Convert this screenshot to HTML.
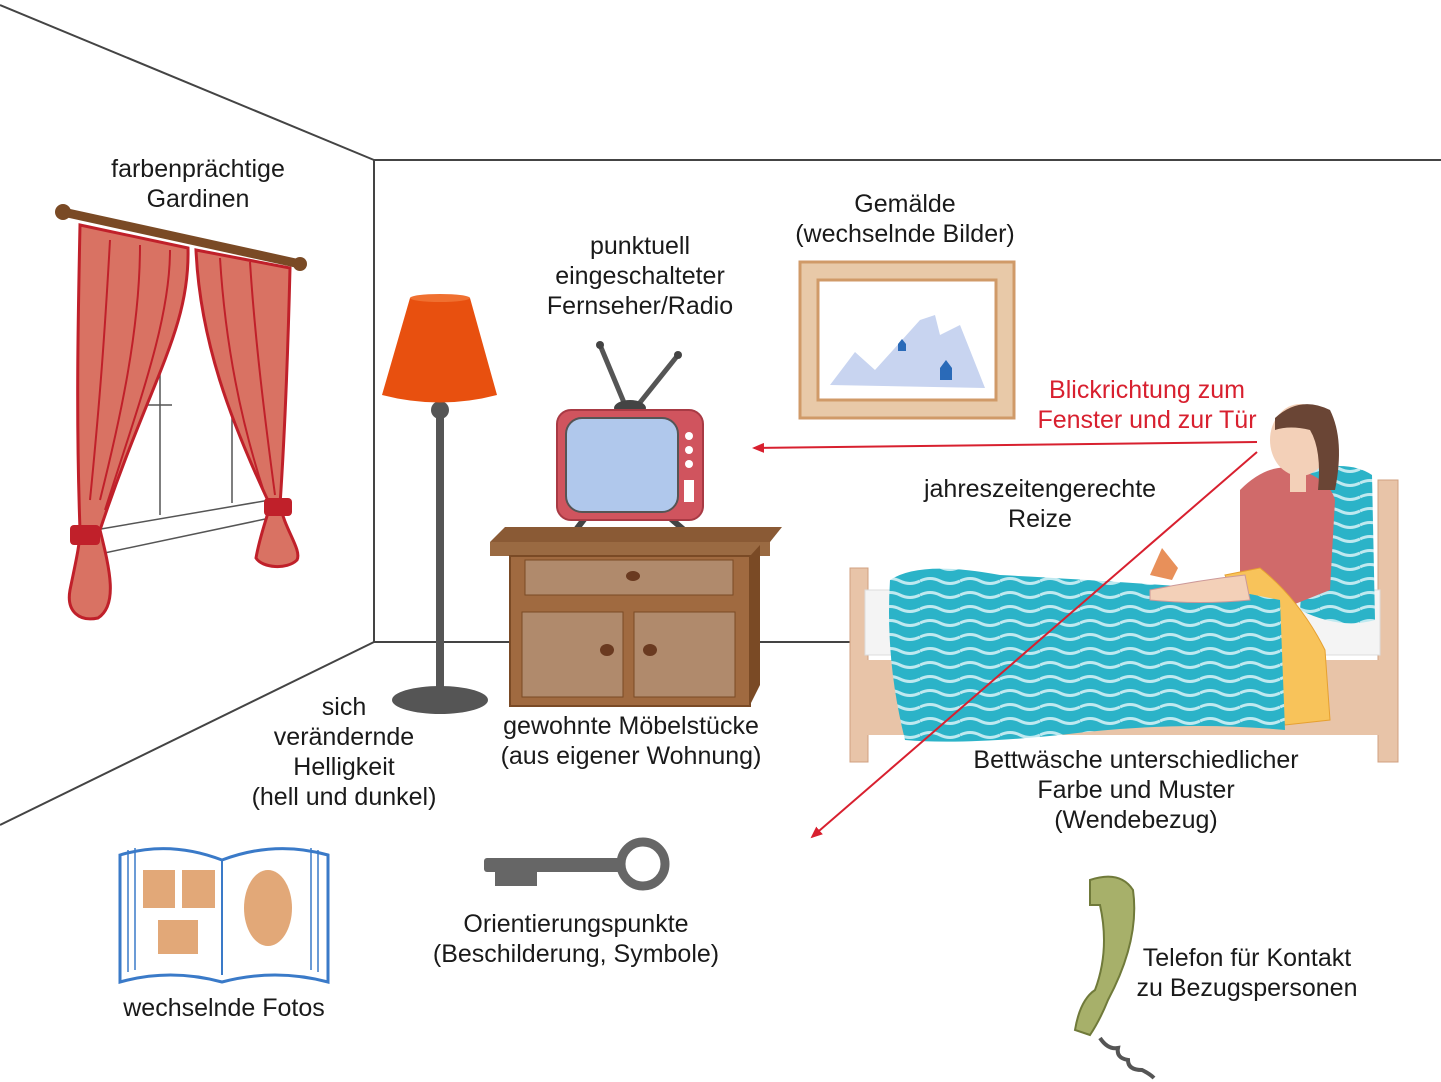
<!DOCTYPE html>
<html><head><meta charset="utf-8"><style>
html,body{margin:0;padding:0;background:#fff}
svg{display:block}
text{font-family:"Liberation Sans",sans-serif;font-size:25px;fill:#1a1a1a}
</style></head><body>
<svg width="1441" height="1082" viewBox="0 0 1441 1082" xmlns="http://www.w3.org/2000/svg">
<defs>
<marker id="ar" markerWidth="12" markerHeight="10" refX="10" refY="5" orient="auto" markerUnits="userSpaceOnUse">
<path d="M0,0 L12,5 L0,10 z" fill="#d8202f"/></marker>
<pattern id="wave" width="40" height="14" patternUnits="userSpaceOnUse">
<rect width="40" height="14" fill="#2bb3c8"/>
<path d="M0,7 Q10,2 20,7 T40,7" stroke="#bfe9f0" stroke-width="3" fill="none"/>
</pattern>
</defs>
<g stroke="#444" stroke-width="2" fill="none">
<line x1="0" y1="5" x2="374" y2="160"/>
<line x1="374" y1="160" x2="1441" y2="160"/>
<line x1="374" y1="160" x2="374" y2="642"/>
<line x1="374" y1="642" x2="0" y2="825"/>
<line x1="374" y1="642" x2="855" y2="642"/>
</g>
<g stroke="#555" stroke-width="1.5" fill="none">
<line x1="160" y1="330" x2="160" y2="515"/>
<line x1="232" y1="315" x2="232" y2="503"/>
<line x1="95" y1="530" x2="270" y2="500"/>
<line x1="95" y1="555" x2="270" y2="518"/>
<line x1="148" y1="405" x2="172" y2="405"/>
</g>
<g stroke="#c0202a" stroke-width="3" fill="#d97263">
<path d="M80,225 L188,248 C190,330 150,380 100,530 C110,570 118,605 98,618 C80,622 66,612 70,590 C75,565 80,545 80,530 C76,420 78,320 80,225 z"/>
<path d="M196,250 L290,268 C288,350 285,430 280,505 C285,530 302,550 297,560 C287,570 262,568 256,558 C260,535 268,515 270,505 C230,420 200,340 196,250 z"/>
</g>
<g stroke="#c0202a" stroke-width="2" fill="none">
<path d="M110,240 C105,330 100,400 90,500"/><path d="M140,245 C140,330 120,420 100,500"/>
<path d="M170,250 C170,320 140,400 105,510"/><path d="M220,258 C225,340 240,420 265,495"/>
<path d="M250,262 C255,340 265,420 275,495"/>
</g>
<rect x="70" y="525" width="30" height="20" rx="4" fill="#c0202a"/>
<rect x="264" y="498" width="28" height="18" rx="4" fill="#c0202a"/>
<line x1="63" y1="212" x2="300" y2="264" stroke="#7a4a25" stroke-width="9" stroke-linecap="round"/>
<circle cx="63" cy="212" r="8" fill="#7a4a25"/><circle cx="300" cy="264" r="7" fill="#7a4a25"/>
<rect x="436" y="400" width="8" height="295" fill="#555"/>
<circle cx="440" cy="410" r="9" fill="#555"/>
<ellipse cx="440" cy="700" rx="48" ry="14" fill="#555"/>
<path d="M410,298 L470,298 L497,395 Q440,410 382,395 z" fill="#e8500f"/>
<ellipse cx="440" cy="298" rx="30" ry="4" fill="#f07030"/>
<line x1="600" y1="345" x2="625" y2="405" stroke="#555" stroke-width="5"/>
<line x1="678" y1="355" x2="638" y2="405" stroke="#555" stroke-width="5"/>
<circle cx="600" cy="345" r="4" fill="#444"/><circle cx="678" cy="355" r="4" fill="#444"/>
<ellipse cx="630" cy="408" rx="16" ry="8" fill="#444"/>
<path d="M585,518 L572,535 M670,518 L690,535" stroke="#444" stroke-width="6"/>
<rect x="557" y="410" width="146" height="110" rx="14" fill="#d0545e" stroke="#a83a44" stroke-width="2"/>
<rect x="566" y="418" width="112" height="94" rx="16" fill="#b0c8ec" stroke="#555" stroke-width="2"/>
<g fill="#fff"><circle cx="689" cy="436" r="4"/><circle cx="689" cy="450" r="4"/><circle cx="689" cy="464" r="4"/>
<rect x="684" y="480" width="10" height="22"/></g>
<path d="M490,542 L505,527 L782,527 L770,542 z" fill="#8a5a35"/>
<rect x="490" y="542" width="280" height="14" fill="#9a6a42"/>
<rect x="510" y="556" width="240" height="150" fill="#a06a40" stroke="#7a4a25" stroke-width="2"/>
<path d="M750,556 L760,545 L760,685 L750,705 z" fill="#7a4a25"/>
<rect x="525" y="560" width="208" height="35" fill="#b08a6c" stroke="#7a4a25"/>
<rect x="522" y="612" width="101" height="85" fill="#b08a6c" stroke="#7a4a25"/>
<rect x="634" y="612" width="101" height="85" fill="#b08a6c" stroke="#7a4a25"/>
<ellipse cx="633" cy="576" rx="7" ry="5" fill="#6a3a20"/>
<ellipse cx="607" cy="650" rx="7" ry="6" fill="#6a3a20"/><ellipse cx="650" cy="650" rx="7" ry="6" fill="#6a3a20"/>
<rect x="800" y="262" width="214" height="156" fill="#e8c9a8" stroke="#d09a68" stroke-width="3"/>
<rect x="818" y="280" width="178" height="120" fill="#fff" stroke="#d09a68" stroke-width="3"/>
<path d="M830,385 L855,352 L875,370 L920,320 L935,315 L940,335 L960,325 L985,388 z" fill="#c8d4f0"/>
<path d="M940,380 L940,368 L946,360 L952,368 L952,380 z" fill="#2a6ab8"/>
<path d="M898,351 L898,344 L902,339 L906,344 L906,351 z" fill="#2a6ab8"/>
<rect x="850" y="568" width="18" height="194" fill="#e8c4a8" stroke="#d0a080"/>
<rect x="1378" y="480" width="20" height="282" fill="#e8c4a8" stroke="#d0a080"/>
<rect x="865" y="660" width="515" height="75" fill="#e8c4a8"/>
<rect x="865" y="590" width="515" height="65" fill="#f4f4f4" stroke="#ddd"/>
<path d="M1310,470 Q1350,460 1372,475 L1375,620 Q1340,630 1300,610 z" fill="url(#wave)"/>
<path d="M1240,490 Q1270,460 1300,470 Q1330,480 1335,500 L1330,590 L1280,610 L1240,590 z" fill="#d06a6a"/>
<path d="M1225,575 L1260,568 Q1300,600 1325,650 L1330,720 L1285,725 z" fill="#f8c35a" stroke="#e6a030"/>
<path d="M890,580 Q920,560 1000,575 Q1100,580 1230,590 L1280,600 L1285,730 Q1180,720 1060,735 Q960,745 905,740 Q885,660 890,580 z" fill="url(#wave)"/>
<path d="M1150,590 Q1200,580 1245,575 L1250,600 Q1200,605 1150,600 z" fill="#f3d0b8" stroke="#c99"/>
<path d="M1150,575 L1162,548 L1178,568 L1172,580 z" fill="#e8905a"/>
<ellipse cx="1300" cy="440" rx="30" ry="36" fill="#f3d0b8"/>
<path d="M1275,418 Q1300,395 1330,410 Q1345,440 1335,490 L1318,490 Q1322,450 1310,430 Q1290,425 1275,430 z" fill="#6a4535"/>
<rect x="1290" y="470" width="16" height="22" fill="#f3d0b8"/>
<line x1="1257" y1="442" x2="754" y2="448" stroke="#d8202f" stroke-width="2" marker-end="url(#ar)"/>
<line x1="1257" y1="452" x2="812" y2="837" stroke="#d8202f" stroke-width="2" marker-end="url(#ar)"/>
<path d="M120,855 Q170,840 222,860 Q275,840 328,855 L328,982 Q275,968 222,982 Q170,968 120,982 z" fill="#fff" stroke="#3a7ac8" stroke-width="3"/>
<line x1="222" y1="860" x2="222" y2="975" stroke="#3a7ac8" stroke-width="2"/>
<path d="M128,850 L128,972 M135,848 L135,970 M318,850 L318,972 M311,848 L311,970" stroke="#3a7ac8" stroke-width="1.5"/>
<rect x="143" y="870" width="32" height="38" fill="#e2a878"/><rect x="182" y="870" width="33" height="38" fill="#e2a878"/>
<rect x="158" y="920" width="40" height="34" fill="#e2a878"/>
<ellipse cx="268" cy="908" rx="24" ry="38" fill="#e2a878"/>
<rect x="484" y="858" width="140" height="14" rx="3" fill="#666"/>
<rect x="495" y="870" width="42" height="16" fill="#666"/>
<circle cx="643" cy="864" r="22" fill="none" stroke="#666" stroke-width="9"/>
<path d="M1090,880 Q1120,870 1133,890 Q1140,940 1108,1000 Q1100,1020 1090,1035 L1075,1030 Q1080,1000 1095,990 Q1110,950 1100,905 L1090,905 z" fill="#a7b06a" stroke="#707a3a" stroke-width="2"/>
<path d="M1100,1038 q8,12 18,10 q-2,10 10,12 q0,10 14,10 q8,4 12,8" fill="none" stroke="#555" stroke-width="4"/>
<g text-anchor="middle">
<text x="198" y="177">farbenprächtige</text><text x="198" y="207">Gardinen</text>
<text x="640" y="254">punktuell</text><text x="640" y="284">eingeschalteter</text><text x="640" y="314">Fernseher/Radio</text>
<text x="905" y="212">Gemälde</text><text x="905" y="242">(wechselnde Bilder)</text>
<text x="1147" y="398" style="fill:#d8202f">Blickrichtung zum</text><text x="1147" y="428" style="fill:#d8202f">Fenster und zur Tür</text>
<text x="1040" y="497">jahreszeitengerechte</text><text x="1040" y="527">Reize</text>
<text x="344" y="715">sich</text><text x="344" y="745">verändernde</text><text x="344" y="775">Helligkeit</text><text x="344" y="805">(hell und dunkel)</text>
<text x="631" y="734">gewohnte Möbelstücke</text><text x="631" y="764">(aus eigener Wohnung)</text>
<text x="1136" y="768">Bettwäsche unterschiedlicher</text><text x="1136" y="798">Farbe und Muster</text><text x="1136" y="828">(Wendebezug)</text>
<text x="576" y="932">Orientierungspunkte</text><text x="576" y="962">(Beschilderung, Symbole)</text>
<text x="224" y="1016">wechselnde Fotos</text>
<text x="1247" y="966">Telefon für Kontakt</text><text x="1247" y="996">zu Bezugspersonen</text>
</g>
</svg>
</body></html>
